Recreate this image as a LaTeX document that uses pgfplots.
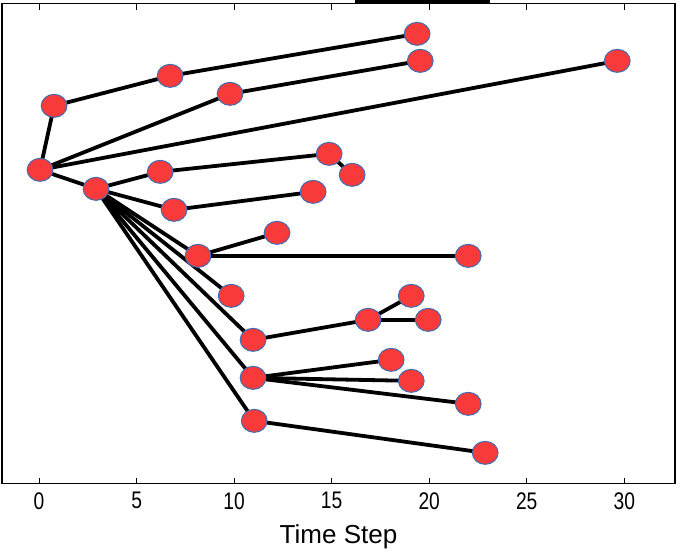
\documentclass[border=0pt]{standalone}
\usepackage{fontspec}
\setmainfont{Liberation Sans}
\newfontfamily\tickfont[FakeStretch=0.8]{Liberation Sans}
\usepackage{pgfplots}
\pgfplotsset{compat=1.18}
\definecolor{nodered}{RGB}{248,58,58}
\definecolor{nodeblue}{RGB}{60,110,180}
\begin{document}
\begin{tikzpicture}
\begin{axis}[
 scale only axis, width=673pt, height=480pt,
 xmin=-1.9, xmax=32.6, ymin=0, ymax=480,
 xtick={0,5,...,30}, ytick=\empty,
 xtick pos=both, tick align=inside, major tick length=6pt,
 tick style={black, line width=0.8pt},
 axis line style={line width=1.2pt},
 ticklabel style={font=\tickfont\fontsize{24}{24}\selectfont},
 xticklabel style={yshift=-5pt},
 /pgf/number format/assume math mode=true,
 xlabel={Time Step},
 xlabel style={font=\fontsize{26}{26}\selectfont, yshift=-8pt},
 clip=false,
 edge/.style={black, line width=3.8pt, line join=round, forget plot},
]
% edges
\addplot[edge] coordinates {(0.05,314) (0.77,378) (6.72,408) (19.38,450)};
\addplot[edge] coordinates {(0.05,314) (9.79,390) (19.54,423)};
\addplot[edge] coordinates {(0.05,314) (29.64,423)};
\addplot[edge] coordinates {(0.05,314) (2.92,295)};
\addplot[edge] coordinates {(2.92,295) (6.21,312) (14.87,330) (16.05,309)};
\addplot[edge] coordinates {(2.92,295) (6.92,274) (14.05,292)};
\addplot[edge] coordinates {(2.92,295) (8.15,228) (12.2,251)};
\addplot[edge] coordinates {(8.15,228) (22.0,228)};
\addplot[edge] coordinates {(2.92,295) (9.85,188)};
\addplot[edge] coordinates {(2.92,295) (10.97,144) (16.87,164) (19.08,188)};
\addplot[edge] coordinates {(16.87,164) (19.95,164)};
\addplot[edge] coordinates {(2.92,295) (10.97,106) (18.05,124)};
\addplot[edge] coordinates {(10.97,106) (19.08,103)};
\addplot[edge] coordinates {(10.97,106) (22.0,80)};
\addplot[edge] coordinates {(2.92,295) (11.03,63) (22.87,31)};
% nodes
\addplot[only marks, mark=*, mark size=11.5pt,
  mark options={fill=nodered, draw=nodeblue, line width=1pt, xscale=1.12}]
coordinates {
(0.05,314) (0.77,378) (6.72,408) (19.38,450) (9.79,390) (19.54,423)
(29.64,423) (2.92,295) (6.21,312) (14.87,330) (16.05,309) (6.92,274)
(14.05,292) (8.15,228) (12.2,251) (22.0,228) (9.85,188) (10.97,144)
(16.87,164) (19.08,188) (19.95,164) (10.97,106) (18.05,124) (19.08,103)
(22.0,80) (11.03,63) (22.87,31)
};
\fill[black] (rel axis cs:0.5245,1) rectangle (rel axis cs:0.725,1.008);
\end{axis}
\path (current axis.south west) +(-2pt,-66pt);
\path (current axis.north east) +(10pt,3pt);
\end{tikzpicture}
\end{document}
